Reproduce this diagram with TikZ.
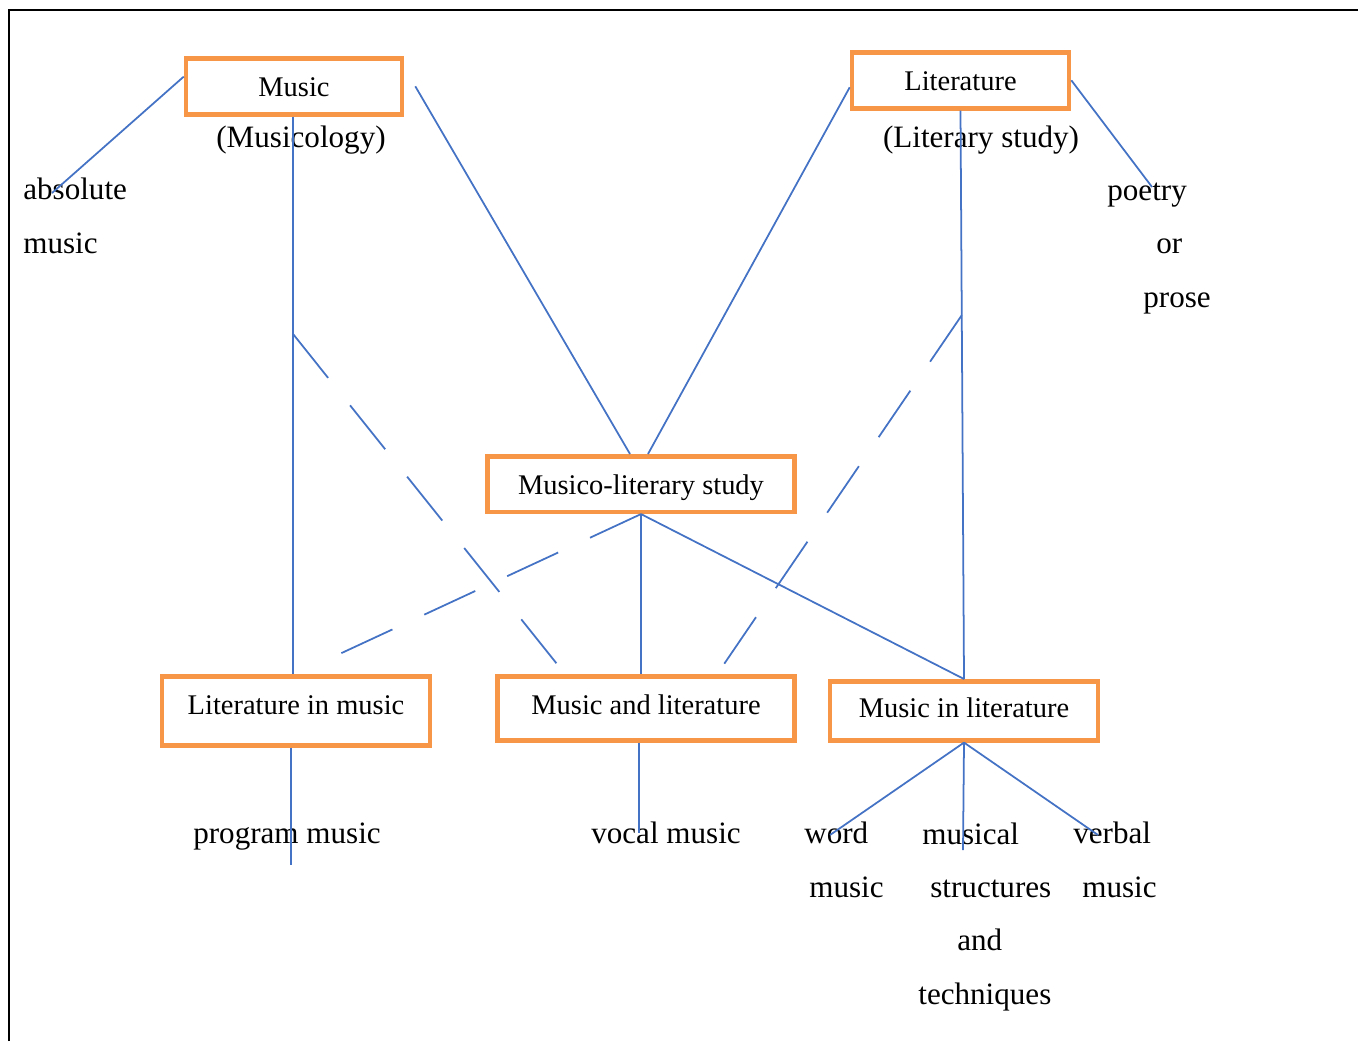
\documentclass[tikz,border=0pt]{standalone}
\usepackage{fontspec}
\setmainfont{Liberation Serif}
\usetikzlibrary{calc}
\definecolor{boxorange}{RGB}{247,150,70}
\definecolor{linkblue}{RGB}{68,114,196}
\newlength\pxu
\setlength\pxu{0.02cm}

\begin{document}
\begin{tikzpicture}[
        x=0.02cm, y=-0.02cm,
        every node/.style={font=\fontsize{16.2}{30.3}\selectfont},
        box/.style 2 args={rectangle, draw=boxorange, line width=2.6pt, anchor=north,
            inner xsep=0pt, inner ysep=0pt,
            minimum width=#1\pxu,
            text height=38\pxu, text depth=#2\pxu},
        lbl/.style={inner sep=0pt, align=left, anchor=base west,
            font=\fontsize{17.7}{30.3}\selectfont},
        link/.style={draw=linkblue, line width=1pt},
        dashlink/.style={link, dash pattern=on 32pt off 20pt}
    ]
        \useasboundingbox (0,0) rectangle (1358,1041);
        \draw[line width=1.1pt] (9,1041) -- (9,10) -- (1358,10);

        \node[box={216}{18}] (music) at (294,56) {Music};
        \node[box={217}{18}] (lit) at (960.5,50) {Literature};
        \node[box={307}{17.5}] (musico) at (641,454) {Musico-literary study};
        \node[box={268}{31}] (litmus) at (296,674) {Literature in music};
        \node[box={297}{26}] (mandl) at (646,674) {Music and literature};
        \node[box={268}{23}, text height=36\pxu] (milit) at (964,679) {Music in literature};

        \node[lbl, anchor=base] (musicology) at (301,147) {(Musicology)};
        \node[lbl, anchor=base] (litstudy) at (981,147) {(Literary study)};
        \node[lbl] (absolute) at (23,253) {absolute\\music};
        \node[lbl] (poetry) at (1107,307) {poetry\\\hspace*{49\pxu}or\\\hspace*{36\pxu}prose};
        \node[lbl, anchor=base] (program) at (287,843) {program music};
        \node[lbl, anchor=base] (vocal) at (666,843) {vocal music};
        \node[lbl] (word) at (804,897) {word\\\hspace*{5\pxu}music};
        \node[lbl] (structures) at (918,1004) {\hspace*{4\pxu}musical\\\hspace*{12\pxu}structures\\\hspace*{39\pxu}and\\techniques};
        \node[lbl] (verbal) at (1073,897) {verbal\\\hspace*{9\pxu}music};

        \coordinate (absend) at (52,193);
        \coordinate (poetryend) at (1152,187);
        \coordinate (wordend) at (830,835);
        \coordinate (structend) at (963,850);
        \coordinate (verbalend) at (1098,835);
        \coordinate (musictop) at ($(music.south)+(-1,0)$);
        \coordinate (musicmid) at ($(musictop)!0.39!(musictop |- litmus.north)$);
        \coordinate (litmid) at ($(lit.south)!0.36!(milit.north)$);

        \draw[link] (music.175) -- (absend);
        \draw[link] (musictop) -- (musictop |- litmus.north);
        \draw[link] ($(music.east)+(11,0)$) -- ($(musico.north)+(-11,0)$);
        \draw[link] ($(lit.west)+(0,7)$) -- ($(musico.north)+(7,0)$);
        \draw[link] (lit.east) -- (poetryend);
        \draw[link] (lit.south) -- (milit.north);

        \draw[dashlink] (musicmid) -- ($(mandl.north)+(-81,0)$);
        \draw[dashlink] (litmid) -- ($(mandl.north)+(74,-4)$);
        \draw[dashlink] (musico.south) -- ($(litmus.north)+(37,-17)$);

        \draw[link] (musico.south) -- (musico.south |- mandl.north);
        \draw[link] (musico.south) -- (milit.north);

        \draw[link] ($(litmus.south)+(-5,0)$) -- ++(0,117);
        \draw[link] ($(mandl.south)+(-7,0)$) -- ++(0,90);
        \draw[link] (milit.south) -- (wordend);
        \draw[link] (milit.south) -- (structend);
        \draw[link] (milit.south) -- (verbalend);
    \end{tikzpicture}
\end{document}
